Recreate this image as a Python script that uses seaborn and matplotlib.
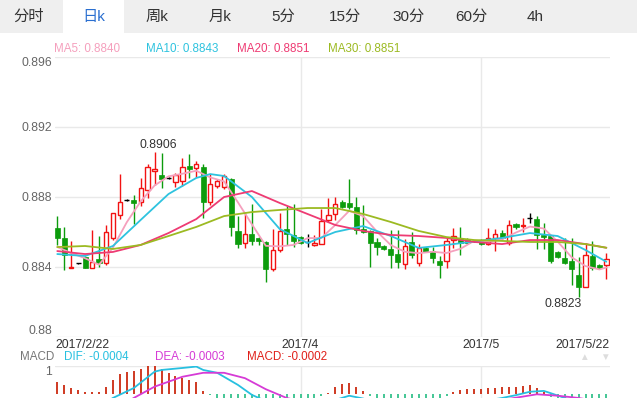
import numpy as np
import pandas as pd
import seaborn as sns
import matplotlib
matplotlib.use("Agg")
from matplotlib import pyplot as plt
from matplotlib.patches import Rectangle

# daily candles, index 0 = 2017/2/22
opens = [0.88625, 0.88564, 0.88396, 0.88421, 0.88459, 0.88396, 0.88444, 0.88421, 0.88566, 0.88697,
         0.88783, 0.88783, 0.88774, 0.88840, 0.88949, 0.88926, 0.88909, 0.88886, 0.88894, 0.88977,
         0.88963, 0.88974, 0.88773, 0.88865, 0.88855, 0.88901, 0.88606, 0.88540, 0.88589, 0.88564,
         0.88543, 0.88386, 0.88497, 0.88615, 0.88583, 0.88569, 0.88545, 0.88526, 0.88531, 0.88669,
         0.88701, 0.88773, 0.88764, 0.88741, 0.88615, 0.88606, 0.88545, 0.88522, 0.88501, 0.88473,
         0.88417, 0.88540, 0.88423, 0.88511, 0.88494, 0.88434, 0.88434, 0.88554, 0.88567, 0.88554,
         0.88549, 0.88554, 0.88530, 0.88563, 0.88593, 0.88537, 0.88644, 0.88633, 0.88680, 0.88673,
         0.88583, 0.88577, 0.88486, 0.88450, 0.88434, 0.88354, 0.88287, 0.88460, 0.88411, 0.88411]
highs = [0.88691, 0.88627, 0.88549, 0.88424, 0.88463, 0.88611, 0.88577, 0.88640, 0.88709, 0.88931,
         0.88791, 0.88811, 0.88906, 0.88986, 0.89060, 0.89051, 0.88915, 0.88940, 0.89021, 0.89043,
         0.89006, 0.88986, 0.88930, 0.88900, 0.88930, 0.88910, 0.88689, 0.88706, 0.88760, 0.88569,
         0.88549, 0.88617, 0.88709, 0.88749, 0.88760, 0.88577, 0.88589, 0.88583, 0.88730, 0.88793,
         0.88798, 0.88780, 0.88903, 0.88800, 0.88754, 0.88611, 0.88563, 0.88526, 0.88609, 0.88611,
         0.88560, 0.88600, 0.88531, 0.88517, 0.88517, 0.88463, 0.88571, 0.88625, 0.88629, 0.88566,
         0.88555, 0.88560, 0.88621, 0.88615, 0.88614, 0.88669, 0.88651, 0.88678, 0.88711, 0.88691,
         0.88650, 0.88583, 0.88491, 0.88564, 0.88567, 0.88459, 0.88535, 0.88549, 0.88417, 0.88480]
lows = [0.88526, 0.88383, 0.88393, 0.88418, 0.88394, 0.88394, 0.88402, 0.88411, 0.88554, 0.88677,
        0.88777, 0.88646, 0.88749, 0.88794, 0.88869, 0.88851, 0.88903, 0.88857, 0.88863, 0.88909,
        0.88914, 0.88680, 0.88754, 0.88853, 0.88844, 0.88577, 0.88510, 0.88510, 0.88526, 0.88526,
        0.88316, 0.88377, 0.88487, 0.88526, 0.88514, 0.88531, 0.88513, 0.88520, 0.88529, 0.88659,
        0.88669, 0.88740, 0.88734, 0.88591, 0.88594, 0.88398, 0.88469, 0.88497, 0.88393, 0.88393,
        0.88387, 0.88451, 0.88406, 0.88483, 0.88420, 0.88339, 0.88396, 0.88509, 0.88469, 0.88531,
        0.88543, 0.88526, 0.88526, 0.88489, 0.88554, 0.88526, 0.88617, 0.88602, 0.88650, 0.88501,
        0.88501, 0.88425, 0.88454, 0.88417, 0.88297, 0.88230, 0.88286, 0.88380, 0.88389, 0.88330]
closes = [0.88567, 0.88469, 0.88399, 0.88421, 0.88396, 0.88430, 0.88421, 0.88598, 0.88706, 0.88770,
          0.88783, 0.88767, 0.88850, 0.88971, 0.88960, 0.88900, 0.88909, 0.88926, 0.88970, 0.88958,
          0.88987, 0.88773, 0.88873, 0.88891, 0.88920, 0.88630, 0.88531, 0.88587, 0.88550, 0.88549,
          0.88390, 0.88497, 0.88606, 0.88589, 0.88550, 0.88535, 0.88545, 0.88535, 0.88665, 0.88697,
          0.88758, 0.88745, 0.88741, 0.88611, 0.88602, 0.88540, 0.88517, 0.88501, 0.88466, 0.88430,
          0.88522, 0.88469, 0.88507, 0.88487, 0.88450, 0.88409, 0.88549, 0.88575, 0.88539, 0.88540,
          0.88549, 0.88530, 0.88564, 0.88587, 0.88564, 0.88640, 0.88629, 0.88640, 0.88680, 0.88580,
          0.88569, 0.88436, 0.88459, 0.88423, 0.88391, 0.88287, 0.88466, 0.88394, 0.88393, 0.88444]

# moving average lines
ma5_idx = [0, 2, 4, 6, 8, 10, 12, 14, 16, 18, 20, 22, 24, 26, 28, 30, 32, 34, 36, 38, 40,
           42, 44, 46, 48, 50, 52, 54, 56, 58, 60, 62, 64, 66, 68, 70, 72, 74, 76, 78, 79]
ma5_val = [0.88514, 0.88480, 0.88450, 0.88413, 0.88510, 0.88656, 0.88775, 0.88866, 0.88918, 0.88933,
           0.88950, 0.88912, 0.88889, 0.88769, 0.88644, 0.88521, 0.88518, 0.88526, 0.88565, 0.88566,
           0.88640, 0.88721, 0.88691, 0.88602, 0.88525, 0.88487, 0.88479, 0.88487, 0.88480, 0.88504,
           0.88550, 0.88544, 0.88559, 0.88597, 0.88631, 0.88620, 0.88545, 0.88456, 0.88405, 0.88386, 0.88397]
ma10_idx = [0, 4, 8, 12, 16, 20, 22, 24, 28, 32, 36, 40, 44, 48, 52, 56, 60, 64, 68, 72, 76, 79]
ma10_val = [0.88474, 0.88463, 0.88520, 0.88669, 0.88817, 0.88909, 0.88931, 0.88920, 0.88800, 0.88617,
            0.88537, 0.88600, 0.88634, 0.88577, 0.88509, 0.88526, 0.88546, 0.88566, 0.88594, 0.88577,
            0.88497, 0.88430]
ma_idx = [0, 4, 8, 12, 16, 20, 24, 28, 32, 36, 40, 44, 48, 52, 56, 60, 64, 68, 72, 76, 79]
ma20_val = [0.88491, 0.88474, 0.88486, 0.88526, 0.88594, 0.88674, 0.88800, 0.88834, 0.88766, 0.88703,
            0.88640, 0.88606, 0.88583, 0.88577, 0.88566, 0.88543, 0.88531, 0.88554, 0.88554, 0.88531, 0.88510]
ma30_val = [0.88514, 0.88520, 0.88503, 0.88526, 0.88577, 0.88629, 0.88691, 0.88714, 0.88726, 0.88737,
            0.88737, 0.88703, 0.88657, 0.88606, 0.88571, 0.88554, 0.88549, 0.88543, 0.88543, 0.88531, 0.88510]

# MACD panel (units of 0.001)
macd_val = [0.45, 0.33, 0.21, 0.15, 0.09, 0.09, 0.09, 0.27, 0.51, 0.72,
            0.80, 0.84, 0.88, 1.00, 1.00, 0.88, 0.74, 0.65, 0.56, 0.51,
            0.42, 0.12, -0.02, -0.15, -0.35, -0.6, -0.8, -0.9, -0.95, -0.9,
            -0.85, -0.7, -0.55, -0.45, -0.35, -0.3, -0.25, -0.15, -0.06, 0.06,
            0.25, 0.35, 0.39, 0.25, 0.13, -0.05, -0.15, -0.25, -0.35, -0.4,
            -0.4, -0.35, -0.3, -0.25, -0.2, -0.15, -0.05, 0.09, 0.15, 0.18,
            0.18, 0.18, 0.21, 0.24, 0.25, 0.25, 0.27, 0.31, 0.33, 0.21,
            0.09, -0.1, -0.2, -0.3, -0.4, -0.45, -0.35, -0.3, -0.25, -0.2]
dif_idx = [0, 4, 8, 11, 14, 15, 18, 20, 21, 23, 26, 28, 29, 32, 36, 40, 42, 44, 48, 52,
           56, 60, 64, 66, 68, 70, 71, 73, 76, 79]
dif_val = [-0.9, -0.75, -0.13, 0.22, 0.80, 0.86, 0.93, 0.98, 0.86, 0.76, 0.33, -0.02, -0.13, -0.45,
           -0.5, -0.2, -0.05, -0.15, -0.45, -0.55, -0.45, -0.3, -0.13, -0.03, 0.09, 0.12, 0.04, -0.13,
           -0.35, -0.4]
dea_idx = [0, 4, 8, 11, 14, 18, 21, 24, 27, 30, 33, 36, 40, 44, 48, 52, 56, 60, 64, 67, 69, 72, 75, 79]
dea_val = [-1.1, -0.95, -0.6, -0.13, 0.27, 0.62, 0.76, 0.76, 0.57, 0.18, -0.13, -0.3, -0.35, -0.25,
           -0.3, -0.4, -0.45, -0.35, -0.2, -0.08, 0.0, -0.05, -0.13, -0.3]

tabs = ["分时", "日k", "周k", "月k", "5分", "15分", "30分", "60分", "4h"]
tab_x = [29, 94, 157, 220, 283, 345, 409, 471, 535]
ma_labels = ["MA5: 0.8840", "MA10: 0.8843", "MA20: 0.8851", "MA30: 0.8851"]
ma_colors = ["#f5a0bd", "#2ec3df", "#ee3b73", "#9cba22"]
date_ticks = [35, 61]
date_labels = ["2017/4", "2017/5"]

RED = "#f21212"
GREEN = "#0c9c0c"
W, H = 637, 398

sns.set_theme(style="white")
plt.rcParams["font.family"] = ["Liberation Sans", "Noto Sans CJK SC", "DejaVu Sans"]


def box(x0, y0, x1, y1):
    # pixel box (top-left origin) -> figure fraction
    return [x0 / W, 1 - y1 / H, (x1 - x0) / W, (y1 - y0) / H]


fig = plt.figure(figsize=(W / 100, H / 100), dpi=100)

# tab bar
fig.add_artist(Rectangle((0, 1 - 33 / H), 1, 33 / H, transform=fig.transFigure,
                         facecolor="#efefef", edgecolor="none", zorder=0))
fig.add_artist(Rectangle((63 / W, 1 - 33 / H), 61 / W, 33 / H, transform=fig.transFigure,
                         facecolor="white", edgecolor="none", zorder=0))
for t, x in zip(tabs, tab_x):
    fig.text(x / W, 1 - 17 / H, t, ha="center", va="center", fontsize=11,
             color="#2a6fd0" if t == "日k" else "#333333")

ma_text_x = [54, 146, 237, 328]
for t, x, col in zip(ma_labels, ma_text_x, ma_colors):
    fig.text(x / W, 1 - 49 / H, t, ha="left", va="center", fontsize=8.4, color=col)

# main candle axes
ax = fig.add_axes(box(55, 57, 610, 337))
idx = np.arange(len(opens))
o, h, l, c = map(np.array, (opens, highs, lows, closes))
up = c > o
dn = c < o
flat = c == o
ax.vlines(idx[up], l[up], h[up], color=RED, lw=1, zorder=2)
ax.vlines(idx[dn], l[dn], h[dn], color=GREEN, lw=1, zorder=2)
ax.vlines(idx[flat], l[flat], h[flat], color="black", lw=1, zorder=2)
ax.bar(idx[up], c[up] - o[up], bottom=o[up], width=0.62, facecolor="white",
       edgecolor=RED, lw=1, zorder=3)
ax.bar(idx[dn], o[dn] - c[dn], bottom=c[dn], width=0.72, facecolor=GREEN,
       edgecolor=GREEN, lw=0.5, zorder=3)
ax.hlines(c[flat], idx[flat] - 0.36, idx[flat] + 0.36, color="black", lw=1, zorder=3)

for xs, ys, col in [(ma5_idx, ma5_val, ma_colors[0]), (ma10_idx, ma10_val, ma_colors[1]),
                    (ma_idx, ma20_val, ma_colors[2]), (ma_idx, ma30_val, ma_colors[3])]:
    sns.lineplot(x=xs, y=ys, ax=ax, color=col, lw=1.3, zorder=4)

ax.text(14.5, 0.89062, "0.8906", ha="center", va="bottom", fontsize=8.8, color="#333333")
ax.text(75.5, 0.88222, "0.8823", ha="right", va="top", fontsize=8.8, color="#333333")

ax.set_xlim(-0.331, 79.525)
ax.set_ylim(0.880, 0.896)
ax.set_yticks([0.880, 0.884, 0.888, 0.892, 0.896])
ax.set_yticklabels(["0.88", "0.884", "0.888", "0.892", "0.896"])
ax.set_xticks(date_ticks)
ax.set_xticklabels([])
ax.tick_params(axis="y", length=0, pad=2, labelsize=8.8, labelcolor="#666666")
ax.tick_params(axis="x", length=0)
ylabs = ax.get_yticklabels()
ylabs[0].set_va("bottom")
ylabs[-1].set_va("top")
ax.grid(True, color="#e9e9e9", lw=1)
ax.set_axisbelow(True)
for s in ax.spines.values():
    s.set_visible(False)
ax.set_xlabel("")
ax.set_ylabel("")

# date labels under the main axes
ax.text(0.0, -0.0286, "2017/2/22", transform=ax.transAxes, ha="left", va="center",
        fontsize=8.8, color="#333333")
ax.text(1.0, -0.0286, "2017/5/22", transform=ax.transAxes, ha="right", va="center",
        fontsize=8.8, color="#333333")
for t, lab in zip(date_ticks, date_labels):
    ax.text(t, -0.0286, lab, transform=ax.get_xaxis_transform(), ha="center", va="center",
            fontsize=8.8, color="#333333")

# MACD header
fig.text(20 / W, 1 - 357 / H, "MACD", ha="left", va="center", fontsize=8.4, color="#777777")
fig.text(64 / W, 1 - 357 / H, "DIF: -0.0004", ha="left", va="center", fontsize=8.4, color="#27c0e0")
fig.text(155 / W, 1 - 357 / H, "DEA: -0.0003", ha="left", va="center", fontsize=8.4, color="#d63bd6")
fig.text(247 / W, 1 - 357 / H, "MACD: -0.0002", ha="left", va="center", fontsize=8.4, color="#e0201a")
fig.text(584 / W, 1 - 357 / H, "▲", ha="center", va="center", fontsize=7, color="#dddddd")
fig.text(605 / W, 1 - 357 / H, "▼", ha="center", va="center", fontsize=7, color="#dddddd")

# MACD panel, lower half falls outside the picture
axm = fig.add_axes(box(55, 366, 610, 422.6))
mv = np.array(macd_val)
axm.vlines(idx, 0, mv, colors=np.where(mv >= 0, "#cc2a10", "#35c28c"), lw=1.3, zorder=2)
sns.lineplot(x=dif_idx, y=dif_val, ax=axm, color="#27c0e0", lw=1.3, zorder=3)
sns.lineplot(x=dea_idx, y=dea_val, ax=axm, color="#d63bd6", lw=1.3, zorder=3)
axm.set_xlim(-0.331, 79.525)
axm.set_ylim(-1, 1)
axm.set_yticks([1])
axm.set_yticklabels(["1"])
axm.set_xticks(date_ticks)
axm.set_xticklabels([])
axm.tick_params(axis="y", length=0, pad=2, labelsize=8.8, labelcolor="#666666")
axm.tick_params(axis="x", length=0)
axm.get_yticklabels()[0].set_va("top")
axm.grid(True, color="#e9e9e9", lw=1)
axm.set_axisbelow(True)
for s in axm.spines.values():
    s.set_visible(False)
axm.set_xlabel("")
axm.set_ylabel("")

plt.savefig("out.png", dpi=100)
